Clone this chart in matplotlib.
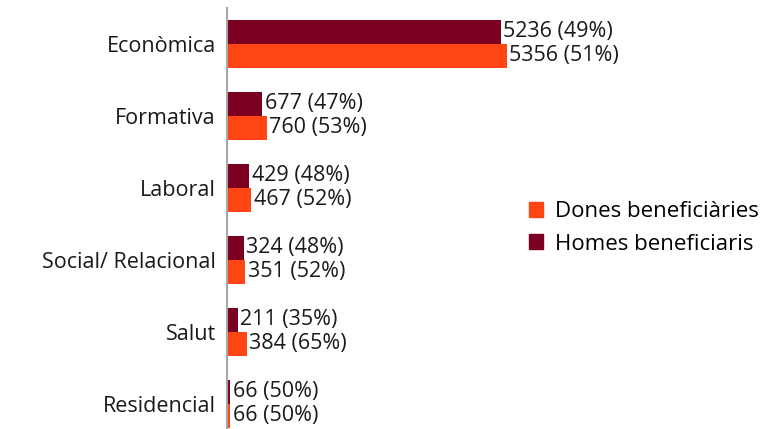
import matplotlib
matplotlib.use("Agg")
import matplotlib.pyplot as plt
from matplotlib.patches import Patch
import numpy as np

categories = ["Econòmica", "Formativa", "Laboral", "Social/ Relacional", "Salut", "Residencial"]
homes = [5236, 677, 429, 324, 211, 66]
dones = [5356, 760, 467, 351, 384, 66]
homes_pct = [49, 47, 48, 48, 35, 50]
dones_pct = [51, 53, 52, 52, 65, 50]

c_homes = "#7B0022"
c_dones = "#FF4513"

plt.rcParams['font.family'] = ['Open Sans', 'DejaVu Sans']

fig = plt.figure(figsize=(7.71, 4.29), dpi=100)
ax = fig.add_axes([227/771, -11/429, (760-227)/771, 432/429])

y = np.arange(len(categories))
h = 1/3
ax.barh(y - h/2, homes, height=h, color=c_homes)
ax.barh(y + h/2, dones, height=h, color=c_dones)

for i in range(len(categories)):
    ax.text(homes[i] + 45, y[i] - h/2, f"{homes[i]} ({homes_pct[i]}%)", va='center', ha='left', fontsize=15.5, color='#1a1a1a')
    ax.text(dones[i] + 45, y[i] + h/2, f"{dones[i]} ({dones_pct[i]}%)", va='center', ha='left', fontsize=15.5, color='#1a1a1a')

ax.set_ylim(len(categories) - 0.5, -0.5)
ax.set_xlim(0, (760-227) / ((507-227)/5356))
ax.set_yticks(y)
ax.set_yticklabels(categories, fontsize=15.5, color='#1a1a1a')
ax.tick_params(axis='y', length=0, pad=8)
ax.set_xticks([])
for s in ['top', 'right', 'bottom']:
    ax.spines[s].set_visible(False)
ax.spines['left'].set_color('#A6A6A6')
ax.spines['left'].set_linewidth(1.5)

handles = [Patch(color=c_dones, label="Dones beneficiàries"), Patch(color=c_homes, label="Homes beneficiaris")]
fig.legend(handles=handles, loc='center left', bbox_to_anchor=(509/771, 1 - 228/429), frameon=False,
           fontsize=16, handlelength=0.65, handleheight=0.65, handletextpad=0.5, labelspacing=0.5)

fig.savefig("out.png", dpi=100)
